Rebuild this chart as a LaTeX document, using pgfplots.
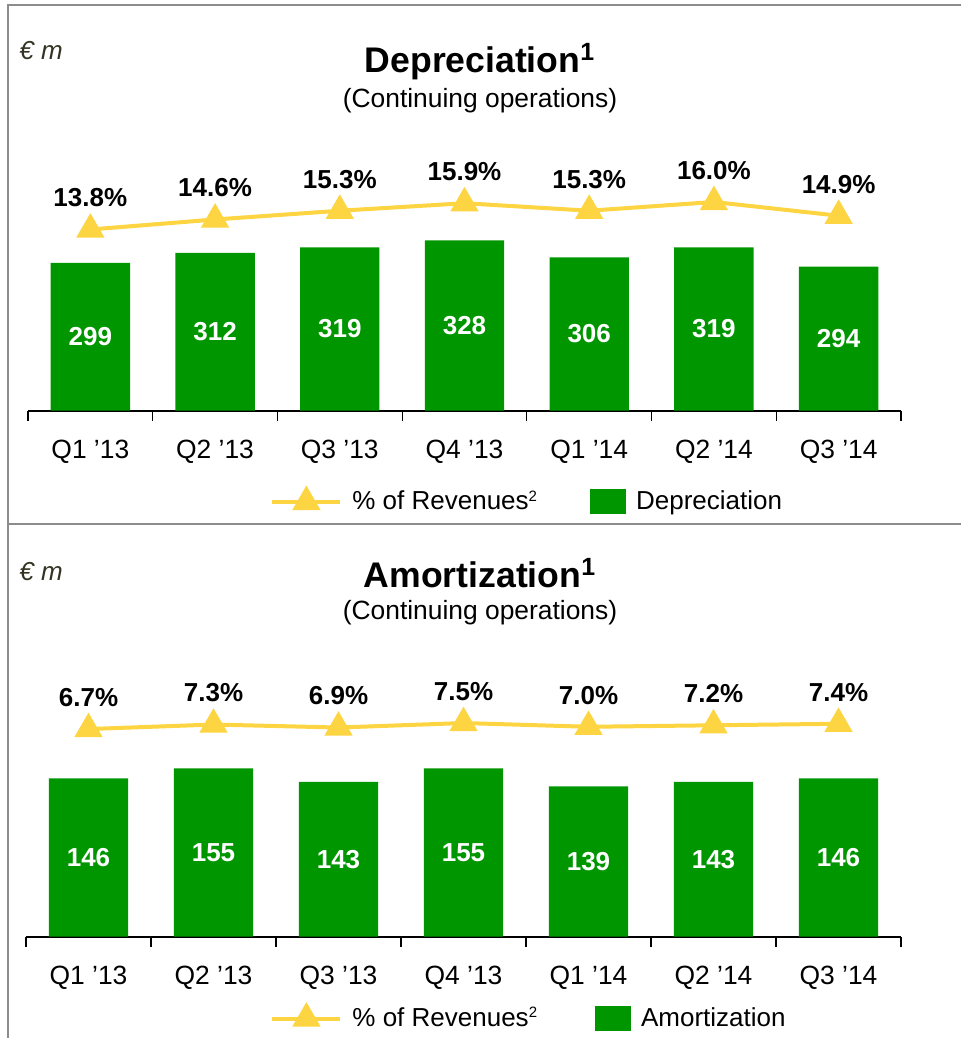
\documentclass[border=0pt]{standalone}
\usepackage{fontspec}
\setmainfont{Liberation Sans}
\usepackage{pgfplots}
\usepackage{pgfplotstable}
\pgfplotsset{compat=1.18}
\definecolor{barg}{RGB}{0,150,0}
\definecolor{liney}{RGB}{253,212,65}
\definecolor{framec}{RGB}{140,140,140}
\definecolor{unitc}{RGB}{51,51,34}

\pgfplotstableread{
x v
0 299
1 312
2 319
3 328
4 306
5 319
6 294
}\depdata
\pgfplotstableread{
x p
0 13.8
1 14.6
2 15.3
3 15.9
4 15.3
5 16.0
6 14.9
}\deppct
\pgfplotstableread{
x v
0 146
1 155
2 143
3 155
4 139
5 143
6 146
}\amodata
\pgfplotstableread{
x p
0 6.7
1 7.3
2 6.9
3 7.5
4 7.0
5 7.2
6 7.4
}\amopct

\newcommand{\supsmall}[1]{\raisebox{0.33em}{\fontsize{7.5}{8}\selectfont #1}}

\pgfplotsset{
  /pgf/number format/assume math mode=true,
  barch/.style={
    scale only axis,
    xmin=-0.5, xmax=6.5,
    axis x line*=bottom,
    axis y line=none,
    xtick={0,...,6},
    xticklabels={Q1 ’13,Q2 ’13,Q3 ’13,Q4 ’13,Q1 ’14,Q2 ’14,Q3 ’14},
    minor xtick={-0.5,0.5,...,6.5},
    major tick length=0pt,
    minor tick length=5pt,
    tick align=outside,
    minor tick style={black, line width=0.6pt},
    axis line style={black, line width=0.85pt, -},
    xticklabel style={font=\fontsize{13.2}{15}\selectfont, anchor=base, yshift=-23.8pt, inner sep=0pt},
  },
  pctch/.style={
    scale only axis, xmin=-0.5, xmax=6.5, hide axis, clip=false,
  },
  pctline/.style={
    liney, line width=2pt, mark=triangle*, mark size=6.2pt, mark options={solid},
  },
  linelegend/.style={
    legend image code/.code={
      \draw[mark repeat=2,mark phase=2,##1] plot coordinates {(0pt,0pt) (17pt,0pt) (34pt,0pt)};
    },
  },
  squarelegend/.style={
    legend image code/.code={
      \fill[##1] (0pt,-6.25pt) rectangle (18pt,6.25pt);
    },
  },
  pctnodes/.style={
    nodes near coords={\pgfmathprintnumber[fixed,fixed zerofill,precision=1,assume math mode=true]{\pgfplotspointmeta}\%},
    point meta=y,
    nodes near coords style={text=black, font=\bfseries\fontsize{13}{15}\selectfont, anchor=base, yshift=11.3pt, inner sep=0pt},
  },
  barnodes/.style={
    draw=none, forget plot,
    nodes near coords={\pgfmathprintnumber[assume math mode=true]{\pgfplotspointmeta}}, point meta=explicit,
    nodes near coords style={text=white, font=\bfseries\fontsize{13}{15}\selectfont, anchor=center, inner sep=0pt},
  },
}

\begin{document}
\begin{tikzpicture}
\path[use as bounding box] (0pt,0pt) rectangle (480.5pt,519pt);

% frame
\draw[framec, line width=1pt] (4pt,-2pt) -- (4pt,516.5pt) -- (482pt,516.5pt);
\draw[framec, line width=1pt] (4pt,257pt) -- (482pt,257pt);

% ---------- Depreciation ----------
\begin{axis}[barch, at={(14pt,313.65pt)}, anchor=south west,
  width=436.5pt, height=130.35pt, ymin=108, ymax=444.8,
  legend style={draw=none, fill=none, at={(0.2772,-0.350)}, anchor=west,
    legend columns=2, font=\fontsize{13}{15}\selectfont, inner sep=0pt,
    nodes={inner sep=0pt},
    /tikz/every odd column/.append style={column sep=5pt},
    /tikz/every even column/.append style={column sep=26.5pt}},
]
\addlegendimage{pctline, linelegend}
\addlegendentry{\% of Revenues\supsmall{2}}
\addplot[ybar, bar width=39.7pt, fill=barg, draw=none, squarelegend] table[x=x,y=v]{\depdata};
\addlegendentry{Depreciation}
\addplot[barnodes] table[x=x, y expr=(\thisrow{v}+108)/2, meta=v]{\depdata};
\end{axis}
\begin{axis}[pctch, at={(14pt,313.65pt)}, anchor=south west,
  width=436.5pt, height=130.35pt, ymin=-0.70, ymax=20.16]
\addplot[pctline, pctnodes] table[x=x,y=p]{\deppct};
\end{axis}

% ---------- Amortization ----------
\begin{axis}[barch, at={(13pt,50.65pt)}, anchor=south west,
  width=437.5pt, height=128.35pt, ymin=5.3, ymax=233.5,
  legend style={draw=none, fill=none, at={(0.2789,-0.3187)}, anchor=west,
    legend columns=2, font=\fontsize{13}{15}\selectfont, inner sep=0pt,
    nodes={inner sep=0pt},
    /tikz/every odd column/.append style={column sep=5pt},
    /tikz/every even column/.append style={column sep=29pt}},
]
\addlegendimage{pctline, linelegend}
\addlegendentry{\% of Revenues\supsmall{2}}
\addplot[ybar, bar width=39.7pt, fill=barg, draw=none, squarelegend] table[x=x,y=v]{\amodata};
\addlegendentry{Amortization}
\addplot[barnodes] table[x=x, y expr=(\thisrow{v}+5.3)/2, meta=v]{\amodata};
\end{axis}
\begin{axis}[pctch, at={(13pt,50.65pt)}, anchor=south west,
  width=437.5pt, height=128.35pt, ymin=-20.99, ymax=13.24]
\addplot[pctline, pctnodes] table[x=x,y=p]{\amopct};
\end{axis}

% titles
\node[anchor=base, inner sep=0pt, font=\bfseries\fontsize{17.8}{20}\selectfont] at (240pt,482.5pt) {Depreciation\textsuperscript{1}};
\node[anchor=base, inner sep=0pt, font=\fontsize{13.2}{15}\selectfont] at (240pt,465pt) {(Continuing operations)};
\node[anchor=base west, inner sep=0pt, text=unitc, font=\itshape\fontsize{13}{15}\selectfont] at (9.5pt,489pt) {€ m};

\node[anchor=base, inner sep=0pt, font=\bfseries\fontsize{17.8}{20}\selectfont] at (240pt,225pt) {Amortization\textsuperscript{1}};
\node[anchor=base, inner sep=0pt, font=\fontsize{13.2}{15}\selectfont] at (240pt,209pt) {(Continuing operations)};
\node[anchor=base west, inner sep=0pt, text=unitc, font=\itshape\fontsize{13}{15}\selectfont] at (9.5pt,228.5pt) {€ m};
\end{tikzpicture}
\end{document}
